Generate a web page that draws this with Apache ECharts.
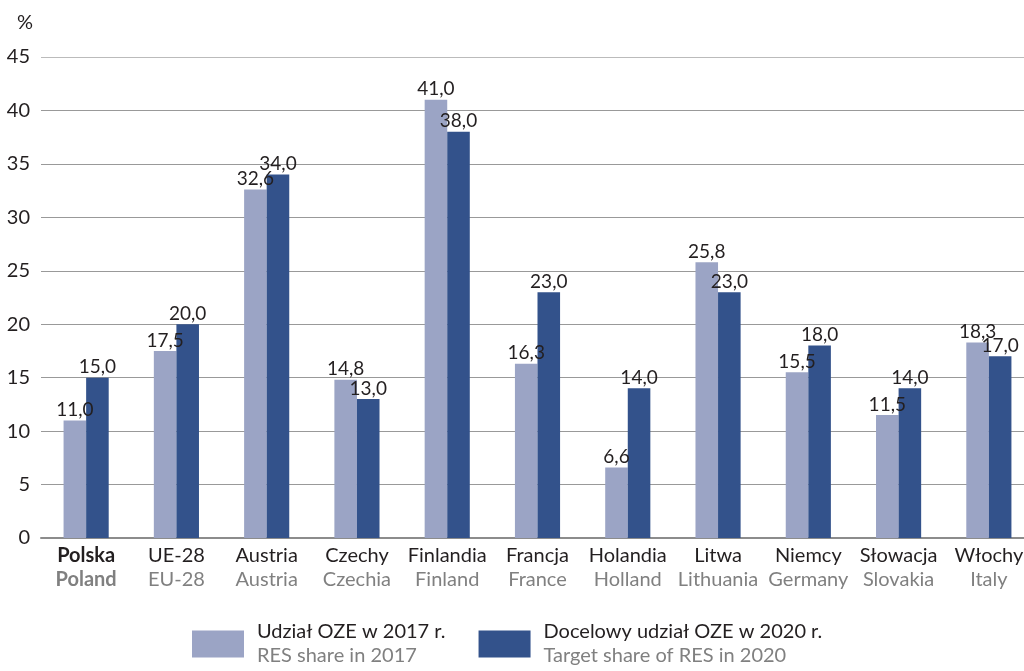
<!DOCTYPE html>
<html>
<head>
<meta charset="utf-8">
<script src="https://cdn.jsdelivr.net/npm/echarts@6/dist/echarts.min.js"></script>
<style>
  html, body { margin: 0; padding: 0; background: #fff; }
  #main { width: 1024px; height: 671px; }
</style>
</head>
<body>
<div id="main"></div>
<script>
// kraje: nazwa polska / angielska
var countriesPl = ['Polska', 'UE-28', 'Austria', 'Czechy', 'Finlandia', 'Francja', 'Holandia', 'Litwa', 'Niemcy', 'Słowacja', 'Włochy'];
var countriesEn = ['Poland', 'EU-28', 'Austria', 'Czechia', 'Finland', 'France', 'Holland', 'Lithuania', 'Germany', 'Slovakia', 'Italy'];

var share2017 = [11.0, 17.5, 32.6, 14.8, 41.0, 16.3, 6.6, 25.8, 15.5, 11.5, 18.3];
var target2020 = [15.0, 20.0, 34.0, 13.0, 38.0, 23.0, 14.0, 23.0, 18.0, 14.0, 17.0];

var seriesNames = ['Udział OZE w 2017 r.', 'Docelowy udział OZE w 2020 r.'];
var seriesNamesEn = ['RES share in 2017', 'Target share of RES in 2020'];

var yTicks = [0, 5, 10, 15, 20, 25, 30, 35, 40, 45];

var FONT = 'Lato, "Open Sans", sans-serif';

function fmt(v) {
  return v.toFixed(1).replace('.', ',');
}

var chart = echarts.init(document.getElementById('main'));

var barLabel = {
  show: true,
  position: 'top',
  distance: 1,
  fontFamily: FONT,
  fontSize: 19,
  color: '#231f20',
  formatter: function (p) { return fmt(p.value); }
};

var option = {
  animation: false,
  title: {
    text: '%',
    left: 12,
    top: 8,
    textStyle: { fontFamily: FONT, fontSize: 20, fontWeight: 'normal', color: '#231f20' }
  },
  grid: {
    left: 41,
    top: 57,
    width: 993,
    bottom: 133,
    outerBoundsMode: 'none',
    containLabel: false
  },
  legend: {
    left: 192,
    top: 622,
    padding: 0,
    itemWidth: 52,
    itemHeight: 27,
    itemGap: 33,
    icon: 'rect',
    data: seriesNames,
    formatter: function (name) {
      var i = seriesNames.indexOf(name);
      return '{a|' + name + '}\n{b|' + seriesNamesEn[i] + '}';
    },
    textStyle: {
      fontFamily: FONT,
      padding: [0, 0, 0, 8],
      rich: {
        a: { fontFamily: FONT, fontSize: 20, color: '#231f20', lineHeight: 24 },
        b: { fontFamily: FONT, fontSize: 20, color: '#808080', lineHeight: 24 }
      }
    }
  },
  xAxis: {
    type: 'category',
    data: countriesPl,
    axisTick: { show: false },
    axisLine: { lineStyle: { color: '#8c8c8c', width: 2 } },
    axisLabel: {
      margin: 6,
      interval: 0,
      formatter: function (v, i) {
        if (i === 0) return '{pb|' + v + '}\n{eb|' + countriesEn[i] + '}';
        return '{p|' + v + '}\n{e|' + countriesEn[i] + '}';
      },
      rich: {
        p: { fontFamily: FONT, fontSize: 20, color: '#231f20', lineHeight: 24 },
        e: { fontFamily: FONT, fontSize: 20, color: '#808080', lineHeight: 24 },
        pb: { fontFamily: FONT, fontSize: 20, fontWeight: 'bold', color: '#231f20', lineHeight: 24 },
        eb: { fontFamily: FONT, fontSize: 20, fontWeight: 'bold', color: '#808080', lineHeight: 24 }
      }
    }
  },
  yAxis: {
    type: 'value',
    min: yTicks[0],
    max: yTicks[yTicks.length - 1],
    interval: 5,
    axisLine: { show: false },
    axisTick: { show: false },
    axisLabel: {
      margin: 11,
      fontFamily: FONT,
      fontSize: 20,
      color: '#231f20'
    },
    splitLine: {
      lineStyle: {
        color: ['#8c8c8c', '#999', '#999', '#999', '#999', '#999', '#999', '#999', '#999', '#bbb'],
        width: 1
      }
    }
  },
  series: [
    {
      name: seriesNames[0],
      type: 'bar',
      data: share2017,
      barGap: '0%',
      barCategoryGap: '50%',
      itemStyle: { color: '#9ba4c5' },
      label: barLabel
    },
    {
      name: seriesNames[1],
      type: 'bar',
      data: target2020,
      barGap: '0%',
      barCategoryGap: '50%',
      itemStyle: { color: '#33528b' },
      label: barLabel
    }
  ]
};

chart.setOption(option);
</script>
</body>
</html>
